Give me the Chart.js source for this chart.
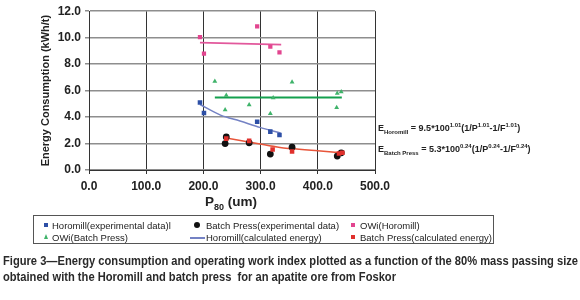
<!DOCTYPE html>
<html>
<head>
<meta charset="utf-8">
<script src="https://cdn.jsdelivr.net/npm/chart.js@4.4.0/dist/chart.umd.min.js"></script>
<style>
  body { margin: 0; width: 580px; height: 300px; background: #fff; position: relative; overflow: hidden; font-family: "Liberation Sans", Arial, sans-serif; }
  #wrap { position: absolute; left: 0; top: 0; width: 580px; height: 300px; }
  .eq { position: absolute; left: 378px; font-weight: bold; font-size: 9px; color: #222; white-space: nowrap; line-height: 1; }
  .eq sub, .eq sup { font-size: 6px; line-height: 0; }
  #xtitle { position: absolute; left: 205px; top: 195px; font-weight: bold; font-size: 13.5px; color: #222; white-space: nowrap; line-height: 1; }
  #xtitle sub { font-size: 9px; line-height: 0; }
  #legend { position: absolute; left: 33px; top: 215px; width: 459px; height: 27px; border: 1px solid #555; }
  .item { position: absolute; font-size: 9.5px; color: #222; white-space: nowrap; line-height: 1; }
  .mk { position: absolute; }
  .caption { position: absolute; left: 3px; font-family: "Liberation Sans", Arial, sans-serif; font-weight: bold; font-size: 12px; color: #2a2a2a; white-space: nowrap; line-height: 1; transform-origin: 0 0; }
</style>
</head>
<body>
<div id="wrap"><canvas id="chart" width="580" height="300"></canvas></div>
<div class="eq" style="top:124px">E<sub>Horomill</sub> = 9.5*100<sup>1.01</sup>(1/P<sup>1.01</sup>-1/F<sup>1.01</sup>)</div>
<div class="eq" style="top:145px">E<sub>Batch Press</sub> = 5.3*100<sup>0.24</sup>(1/P<sup>0.24</sup>-1/F<sup>0.24</sup>)</div>
<div id="xtitle">P<sub>80</sub> (um)</div>
<div id="legend"></div>
<div class="caption" id="cap1" style="top:255px">Figure 3—Energy consumption and operating work index plotted as a function of the 80% mass passing size</div>
<div class="caption" id="cap2" style="top:271px">obtained with the Horomill and batch press&nbsp; for an apatite ore from Foskor</div>
<script>
// Datos
const horomillP = [194, 201, 294, 317, 333];
const horomillExp = [5.1, 4.3, 3.65, 2.9, 2.65];
const owiHoromill = [10.05, 8.8, 10.85, 9.33, 8.88];

const horomillCalcP = [194, 230, 264, 300, 335];
const horomillCalc = [4.95, 4.15, 3.7, 3.2, 2.8];

const batchP = [240, 238, 280, 317, 355, 434, 441];
const batchExp = [2.5, 2.0, 2.05, 1.2, 1.72, 1.05, 1.3];

const batchCalcP = [240, 280, 321, 355, 437, 443];
const batchCalc = [2.37, 2.2, 1.55, 1.4, 1.25, 1.3];

const batchCurveP = [235, 294, 334, 352, 400, 445];
const batchCurve = [2.45, 2.0, 1.7, 1.62, 1.45, 1.3];

const owiBatchP = [220, 240, 238, 280, 317, 322, 355, 434, 441, 433];
const owiBatch = [6.7, 5.65, 4.55, 4.93, 4.27, 5.45, 6.65, 5.8, 5.9, 4.72];

const owiHoromillLineP = [194, 336];
const owiHoromillLine = [9.62, 9.48];
const owiBatchLineP = [220, 442];
const owiBatchLine = [5.47, 5.47];

const xTicks = [0, 100, 200, 300, 400, 500];
const yTicks = [0, 1, 2, 3, 4, 5, 6, 7, 8, 9, 10, 11, 12];

const pts = (xs, ys) => xs.map((x, i) => ({ x: x, y: ys[i] }));

const datasets = [
    { label: 'Horomill(experimental data)l', data: pts(horomillP, horomillExp), pointStyle: 'rect', pointRadius: 3.2, backgroundColor: '#2d4fa6', borderColor: '#2d4fa6', borderWidth: 0, order: 2, legendPos: [0, 0] },
    { label: 'Batch Press(experimental data)', data: pts(batchP, batchExp), pointStyle: 'circle', pointRadius: 3.4, backgroundColor: '#111', borderColor: '#111', borderWidth: 0, order: 3, legendPos: [1, 0] },
    { label: 'OWi(Horomill)', data: pts(horomillP, owiHoromill), pointStyle: 'rect', pointRadius: 3, backgroundColor: '#e2458f', borderColor: '#e2458f', borderWidth: 0, order: 2, legendPos: [2, 0] },
    { label: 'OWi(Batch Press)', data: pts(owiBatchP, owiBatch), pointStyle: 'triangle', pointRadius: 2.8, backgroundColor: '#3fb36a', borderColor: '#3fb36a', borderWidth: 0, order: 2, legendPos: [0, 1] },
    { label: 'Horomill(calculated energy)', data: pts(horomillCalcP, horomillCalc), showLine: true, pointRadius: 0, borderColor: '#7482c4', borderWidth: 1.5, cubicInterpolationMode: 'monotone', order: 4, legendPos: [1, 1] },
    { label: 'Batch Press(calculated energy)', data: pts(batchCalcP, batchCalc), pointStyle: 'rect', pointRadius: 3.2, backgroundColor: '#e0302c', borderColor: '#e0302c', borderWidth: 0, order: 1, legendPos: [2, 1] },
    { label: 'curve-batch', data: pts(batchCurveP, batchCurve), showLine: true, pointRadius: 0, borderColor: '#e8553a', borderWidth: 1.5, cubicInterpolationMode: 'monotone', order: 4 },
    { label: 'avg-horomill', data: pts(owiHoromillLineP, owiHoromillLine), showLine: true, pointRadius: 0, borderColor: '#e2589c', borderWidth: 1.8, order: 4 },
    { label: 'avg-batch', data: pts(owiBatchLineP, owiBatchLine), showLine: true, pointRadius: 0, borderColor: '#14a04e', borderWidth: 2, order: 4 }
];

const tickFont = { family: 'Liberation Sans', size: 12, weight: 'bold' };

new Chart(document.getElementById('chart'), {
    type: 'scatter',
    data: { datasets: datasets },
    options: {
        responsive: false,
        animation: false,
        layout: { padding: { left: 0, top: 10, right: 205, bottom: 0 } },
        plugins: { legend: { display: false }, tooltip: { enabled: false } },
        scales: {
            x: {
                type: 'linear', min: 0, max: 500,
                afterBuildTicks: s => { s.ticks = xTicks.map(v => ({ value: v })); },
                afterFit: s => { s.height = 130; },
                ticks: { font: tickFont, color: '#222', padding: 5, callback: v => v.toFixed(1) },
                grid: { color: '#333', lineWidth: 1, tickLength: 4 },
                border: { color: '#333', width: 1 }
            },
            y: {
                type: 'linear', min: 0, max: 12,
                afterBuildTicks: s => { s.ticks = yTicks.map(v => ({ value: v })); },
                afterFit: s => { s.width = 89; },
                ticks: { font: tickFont, color: '#222', padding: 4, callback: v => v.toFixed(1) },
                grid: { color: '#8e8e8e', lineWidth: 1.5, tickLength: 4 },
                border: { color: '#333', width: 1 },
                title: { display: true, text: 'Energy Consumption (kWh/t)', font: { family: 'Liberation Sans', size: 11, weight: 'bold' }, color: '#222', padding: { top: 39, bottom: 0 } }
            }
        }
    }
});

// Leyenda en HTML construida desde los datasets
const legend = document.getElementById('legend');
const colX = [10, 160, 317];
const textX = [18, 172, 326];
const rowY = [5, 17];
datasets.filter(d => d.legendPos).forEach(d => {
    const [c, r] = d.legendPos;
    const mk = document.createElement('div');
    mk.className = 'mk';
    const color = d.showLine ? d.borderColor : d.backgroundColor;
    if (d.showLine) {
        mk.style.cssText = `left:${textX[c] - 16}px;top:${rowY[r] + 4}px;width:15px;height:1.5px;background:${color}`;
    } else if (d.pointStyle === 'circle') {
        mk.style.cssText = `left:${colX[c]}px;top:${rowY[r] + 1}px;width:6px;height:6px;border-radius:50%;background:${color}`;
    } else if (d.pointStyle === 'triangle') {
        mk.style.cssText = `left:${colX[c]}px;top:${rowY[r] + 1}px;width:0;height:0;border-left:2.5px solid transparent;border-right:2.5px solid transparent;border-bottom:5px solid ${color}`;
    } else {
        mk.style.cssText = `left:${colX[c]}px;top:${rowY[r] + 2}px;width:4px;height:4px;background:${color}`;
    }
    legend.appendChild(mk);
    const it = document.createElement('div');
    it.className = 'item';
    it.style.left = textX[c] + 'px';
    it.style.top = rowY[r] + 'px';
    it.textContent = d.label;
    legend.appendChild(it);
});

// Pie de figura: comprimir para que quepa como en el original
const cap1 = document.getElementById('cap1');
const k = 575 / cap1.getBoundingClientRect().width;
document.querySelectorAll('.caption').forEach(el => {
    el.style.transform = `scaleX(${k})`;
});
</script>
</body>
</html>
